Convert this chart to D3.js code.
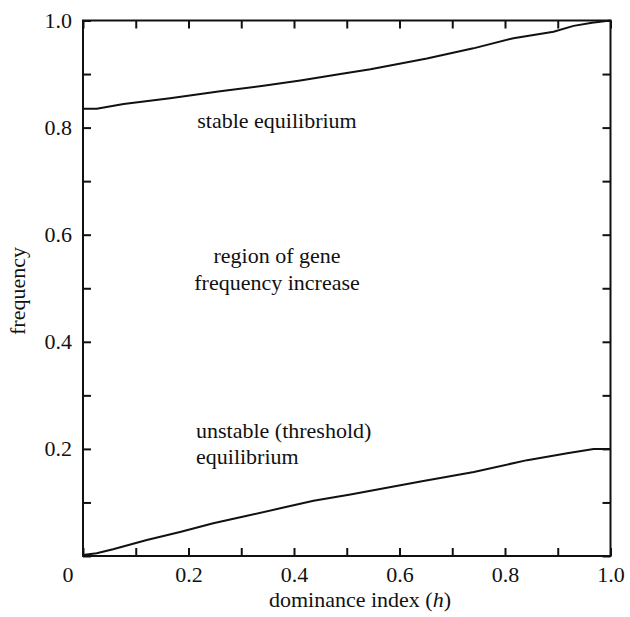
<!DOCTYPE html>
<html>
<head>
<meta charset="utf-8">
<script src="https://cdn.jsdelivr.net/npm/d3@7"></script>
<style>
  body { margin: 0; background: #fff; }
</style>
</head>
<body>
<svg id="chart" width="630" height="617"></svg>
<script>
// Dominance index values and equilibrium frequencies
const upperH = [0, 0.026, 0.077, 0.165, 0.26, 0.342, 0.412, 0.488, 0.545, 0.652, 0.74, 0.816, 0.892, 0.93, 0.965, 1.0];
const upperF = [0.835, 0.835, 0.844, 0.855, 0.868, 0.878, 0.888, 0.9, 0.909, 0.929, 0.948, 0.967, 0.979, 0.99, 0.996, 1.0];

const lowerH = [0, 0.026, 0.057, 0.121, 0.184, 0.247, 0.311, 0.374, 0.437, 0.507, 0.64, 0.741, 0.842, 0.918, 0.968, 1.0];
const lowerF = [0.002, 0.005, 0.0125, 0.03, 0.045, 0.061, 0.075, 0.089, 0.103, 0.115, 0.139, 0.157, 0.179, 0.192, 0.2, 0.2];

const tickVals = [0, 0.1, 0.2, 0.3, 0.4, 0.5, 0.6, 0.7, 0.8, 0.9, 1.0];
const labelVals = [0.2, 0.4, 0.6, 0.8, 1.0];

const serif = '"Liberation Serif"';
const fs = '22px';

// Plot frame
const frameL = 83, frameR = 610.5, frameT = 20.5, frameB = 556;

const svg = d3.select('#chart');

const x = d3.scaleLinear().domain([0, 1]).range([frameL, frameR]);
const y = d3.scaleLinear().domain([0, 1]).range([frameB, frameT]);

// label only every 0.2, skip zero (drawn separately at the corner)
const fmt = d => labelVals.some(v => Math.abs(v - d) < 1e-9) ? d3.format('.1f')(d) : '';

function label(sel) {
  return sel.style('font-family', serif).style('font-size', fs).attr('fill', '#111');
}

function styleAxis(g) {
  g.select('.domain').remove();
  g.selectAll('.tick line').attr('stroke', '#111').attr('stroke-width', 2);
  g.selectAll('.tick text').call(label);
}

// ticks point inward on all four sides
svg.append('g')
  .attr('transform', `translate(0,${frameB})`)
  .call(d3.axisBottom(x).tickValues(tickVals).tickSize(-8).tickPadding(10).tickFormat(fmt))
  .call(styleAxis);

svg.append('g')
  .attr('transform', `translate(0,${frameT})`)
  .call(d3.axisTop(x).tickValues(tickVals).tickSize(-8).tickFormat(''))
  .call(styleAxis);

svg.append('g')
  .attr('transform', `translate(${frameL},0)`)
  .call(d3.axisLeft(y).tickValues(tickVals).tickSize(-8).tickPadding(11).tickFormat(fmt))
  .call(styleAxis);

svg.append('g')
  .attr('transform', `translate(${frameR},0)`)
  .call(d3.axisRight(y).tickValues(tickVals).tickSize(-8).tickFormat(''))
  .call(styleAxis);

// frame
svg.append('rect')
  .attr('x', frameL).attr('y', frameT)
  .attr('width', frameR - frameL).attr('height', frameB - frameT)
  .attr('fill', 'none').attr('stroke', '#111').attr('stroke-width', 2);

// corner zero
svg.append('text')
  .attr('x', 68).attr('y', 582)
  .attr('text-anchor', 'middle')
  .call(label)
  .text('0');

// equilibrium curves
const line = d3.line().x(d => x(d[0])).y(d => y(d[1]));

svg.append('path')
  .datum(d3.zip(upperH, upperF))
  .attr('d', line)
  .attr('fill', 'none').attr('stroke', '#111').attr('stroke-width', 2);

svg.append('path')
  .datum(d3.zip(lowerH, lowerF))
  .attr('d', line)
  .attr('fill', 'none').attr('stroke', '#111').attr('stroke-width', 2);

// annotations
svg.append('text').attr('x', 277).attr('y', 128).attr('text-anchor', 'middle')
  .call(label).text('stable equilibrium');

svg.append('text').attr('x', 277).attr('y', 263).attr('text-anchor', 'middle')
  .call(label).text('region of gene');
svg.append('text').attr('x', 277).attr('y', 290).attr('text-anchor', 'middle')
  .call(label).text('frequency increase');

svg.append('text').attr('x', 196).attr('y', 438)
  .call(label).text('unstable (threshold)');
svg.append('text').attr('x', 196).attr('y', 464)
  .call(label).text('equilibrium');

// axis titles
const xt = svg.append('text').attr('x', 360).attr('y', 607).attr('text-anchor', 'middle')
  .call(label);
xt.append('tspan').text('dominance index (');
xt.append('tspan').style('font-style', 'italic').text('h');
xt.append('tspan').text(')');

svg.append('text')
  .attr('transform', 'translate(25,291) rotate(-90)')
  .attr('text-anchor', 'middle')
  .call(label)
  .text('frequency');
</script>
</body>
</html>
